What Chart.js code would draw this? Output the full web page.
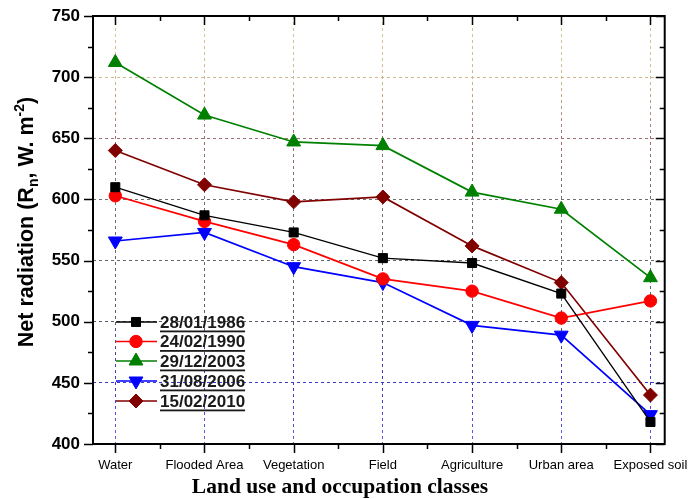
<!DOCTYPE html>
<html>
<head>
<meta charset="utf-8">
<script src="https://cdn.jsdelivr.net/npm/chart.js@4.4.1/dist/chart.umd.min.js"></script>
<style>
  html, body { margin: 0; padding: 0; background: #ffffff; }
  #wrap { position: relative; width: 693px; height: 499px; }
</style>
</head>
<body>
<div id="wrap"><canvas id="chart" width="693" height="499"></canvas></div>
<script>
// Land use classes along the x axis
const categories = ['Water', 'Flooded Area', 'Vegetation', 'Field', 'Agriculture', 'Urban area', 'Exposed soil'];

// Net radiation (W m-2) per acquisition date
const rn1986 = [610, 587, 573, 552, 548, 523, 418];
const rn1990 = [603, 582, 563, 535, 525, 503, 517];
const rn2003 = [712, 669, 647, 644, 606, 592, 536];
const rn2006 = [566, 573, 545, 532, 497, 489, 424];
const rn2010 = [640, 612, 598, 602, 562, 532, 440];

const dateLabels = ['28/01/1986', '24/02/1990', '29/12/2003', '31/08/2006', '15/02/2010'];
const yTickValues = [400, 450, 500, 550, 600, 650, 700, 750];

const SANS = '"Liberation Sans", Arial, sans-serif';
const SERIF = '"Liberation Serif", "Times New Roman", serif';

const styles = [
  { color: '#000000', point: 'rect', radius: 6.4, rotation: 0, width: 1.3 },
  { color: '#ff0000', point: 'circle', radius: 6.2, rotation: 0, width: 1.7 },
  { color: '#008000', point: 'triangle', radius: 8, rotation: 0, width: 1.7 },
  { color: '#0000ff', point: 'triangle', radius: 8, rotation: 180, width: 1.7 },
  { color: '#800000', point: 'rectRot', radius: 7, rotation: 0, width: 1.7 }
];
const seriesValues = [rn1986, rn1990, rn2003, rn2006, rn2010];

const datasets = seriesValues.map((vals, k) => ({
  label: dateLabels[k],
  data: vals.map((v, i) => ({ x: i, y: v })),
  borderColor: styles[k].color,
  backgroundColor: styles[k].color,
  borderWidth: styles[k].width,
  pointStyle: styles[k].point,
  pointRadius: styles[k].radius,
  pointRotation: styles[k].rotation,
  pointBorderWidth: 1,
  pointBorderColor: styles[k].color,
  pointBackgroundColor: styles[k].color,
  tension: 0
}));

// Dashed grid colour shifts from tan at the top to blue near the bottom
function gridGradient(chart) {
  const a = chart.chartArea;
  if (!a) return '#888';
  const g = chart.ctx.createLinearGradient(0, a.top, 0, a.bottom);
  g.addColorStop(0.0, '#d8c79a');
  g.addColorStop(0.15, '#cdb88e');
  g.addColorStop(0.29, '#9c6f74');
  g.addColorStop(0.43, '#707070');
  g.addColorStop(0.72, '#5a5a6a');
  g.addColorStop(0.86, '#3a3ad0');
  g.addColorStop(1.0, '#6060e0');
  return g;
}

// Marker drawing for the legend, mirroring the dataset point styles
function legendMarker(ctx, s, x, y) {
  if (Chart.helpers && Chart.helpers.drawPoint) {
    Chart.helpers.drawPoint(ctx, { pointStyle: s.point, radius: s.radius, rotation: s.rotation, borderWidth: 1 }, x, y);
    return;
  }
  ctx.beginPath();
  const r = s.radius;
  if (s.point === 'circle') {
    ctx.arc(x, y, r, 0, Math.PI * 2);
  } else if (s.point === 'rect') {
    const h = r * Math.SQRT1_2;
    ctx.rect(x - h, y - h, 2 * h, 2 * h);
  } else if (s.point === 'rectRot') {
    ctx.moveTo(x, y - r); ctx.lineTo(x + r, y); ctx.lineTo(x, y + r); ctx.lineTo(x - r, y); ctx.closePath();
  } else {
    const sgn = s.rotation ? -1 : 1;
    ctx.moveTo(x, y - sgn * r);
    ctx.lineTo(x + r * 0.866, y + sgn * r / 2);
    ctx.lineTo(x - r * 0.866, y + sgn * r / 2);
    ctx.closePath();
  }
  ctx.fill();
  ctx.stroke();
}

// Box frame, major/minor tick marks, axis titles and the inset legend
const decorations = {
  id: 'decorations',
  afterDatasetsDraw(chart) {
    const ctx = chart.ctx;
    const a = chart.chartArea;
    const xs = chart.scales.x;
    const ys = chart.scales.y;
    const MAJ = 9, MIN = 5;
    ctx.save();
    ctx.strokeStyle = '#000';
    ctx.lineWidth = 1.5;
    ctx.beginPath();
    // y ticks: outward on the left, inward on the right
    for (let v = 400; v <= 750; v += 25) {
      const y = Math.round(ys.getPixelForValue(v)) + 0.5;
      const len = (v % 50 === 0) ? MAJ : MIN;
      ctx.moveTo(a.left, y); ctx.lineTo(a.left - len, y);
      ctx.moveTo(a.right, y); ctx.lineTo(a.right - len, y);
    }
    // x ticks: outward at the bottom, inward at the top
    for (let v = 0; v <= 6; v += 0.5) {
      const x = Math.round(xs.getPixelForValue(v)) + 0.5;
      const len = (v % 1 === 0) ? MAJ : MIN;
      ctx.moveTo(x, a.bottom); ctx.lineTo(x, a.bottom + len);
      ctx.moveTo(x, a.top); ctx.lineTo(x, a.top + len);
    }
    ctx.stroke();
    ctx.lineWidth = 2;
    ctx.strokeRect(a.left, a.top, a.right - a.left, a.bottom - a.top);

    // x axis title
    ctx.fillStyle = '#000';
    ctx.font = 'bold 21.5px ' + SERIF;
    ctx.textAlign = 'center';
    ctx.textBaseline = 'alphabetic';
    ctx.fillText('Land use and occupation classes', 340, 493);

    // y axis title with subscript and superscript
    ctx.save();
    ctx.translate(33, 222);
    ctx.rotate(-Math.PI / 2);
    const big = 'bold 21.5px ' + SANS;
    const small = 'bold 14px ' + SANS;
    const parts = [
      { t: 'Net radiation (R', f: big, dy: 0 },
      { t: 'n', f: small, dy: 5 },
      { t: ', W. m', f: big, dy: 0 },
      { t: '-2', f: small, dy: -9 },
      { t: ')', f: big, dy: 0 }
    ];
    let total = 0;
    parts.forEach(p => { ctx.font = p.f; p.w = ctx.measureText(p.t).width; total += p.w; });
    let cx = -total / 2;
    ctx.textAlign = 'left';
    parts.forEach(p => { ctx.font = p.f; ctx.fillText(p.t, cx, p.dy); cx += p.w; });
    ctx.restore();

    // legend inside the plot
    const lx0 = a.left + 23, lx1 = a.left + 64, mx = a.left + 43, tx = a.left + 67;
    const rows = [322, 341.5, 361, 381, 401];
    ctx.font = 'bold 17px ' + SANS;
    ctx.textBaseline = 'middle';
    ctx.textAlign = 'left';
    datasets.forEach((ds, k) => {
      const y = rows[k];
      const s = styles[k];
      ctx.strokeStyle = s.color;
      ctx.lineWidth = s.width;
      ctx.beginPath();
      ctx.moveTo(lx0, y); ctx.lineTo(lx1, y);
      ctx.stroke();
      ctx.fillStyle = s.color;
      ctx.lineWidth = 1;
      legendMarker(ctx, s, mx, y);
      ctx.fillStyle = '#1a1a1a';
      ctx.fillText(ds.label, tx, y + 1);
      const w = ctx.measureText(ds.label).width;
      ctx.fillRect(tx, y + 8.5, w, 1.8);
    });
    ctx.restore();
  }
};

new Chart(document.getElementById('chart'), {
  type: 'line',
  data: { datasets },
  plugins: [decorations],
  options: {
    responsive: false,
    animation: false,
    layout: { padding: { top: 16, right: 28, left: 0, bottom: 0 } },
    plugins: { legend: { display: false }, tooltip: { enabled: false } },
    scales: {
      x: {
        type: 'linear',
        min: -0.25,
        max: 6.16,
        afterBuildTicks: s => { s.ticks = categories.map((c, i) => ({ value: i })); },
        afterFit: s => { s.height = 55; },
        ticks: {
          autoSkip: false,
          maxRotation: 0,
          padding: 5,
          color: '#000',
          font: { family: SANS, size: 13 },
          callback: v => categories[v] ?? ''
        },
        grid: {
          color: ctx => gridGradient(ctx.chart),
          tickColor: 'transparent',
          tickLength: 9,
          lineWidth: 1
        },
        border: { display: false, dash: [3, 3] }
      },
      y: {
        type: 'linear',
        min: 400,
        max: 750,
        afterBuildTicks: s => { s.ticks = yTickValues.map(v => ({ value: v })); },
        afterFit: s => { s.width = 93; },
        ticks: {
          padding: 4,
          color: '#000',
          font: { family: SANS, size: 17, weight: 'bold' }
        },
        grid: {
          color: ctx => (ctx.tick && (ctx.tick.value === 400 || ctx.tick.value === 750)) ? 'transparent' : gridGradient(ctx.chart),
          tickColor: 'transparent',
          tickLength: 9,
          lineWidth: 1
        },
        border: { display: false, dash: [3, 3] }
      }
    }
  }
});
</script>
</body>
</html>
